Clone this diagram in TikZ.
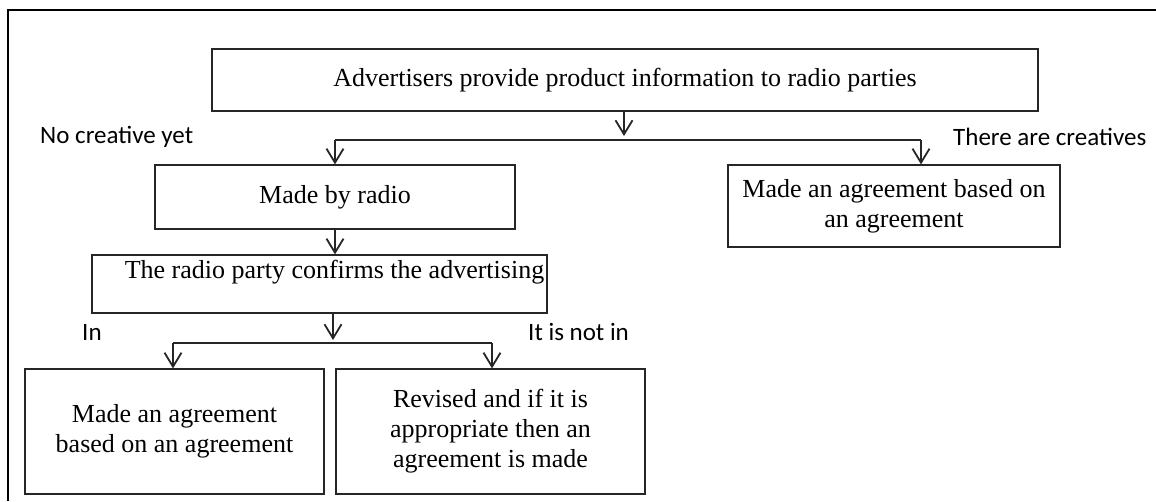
\documentclass[tikz,border=0pt]{standalone}
\usepackage{fontspec}
\setmainfont{Liberation Serif}
\newfontfamily\labfont{Carlito}
\usetikzlibrary{arrows.meta}
\begin{document}
\begin{tikzpicture}[x=1pt,y=-1pt,
  box/.style={draw=black!85, line width=1.2pt, rectangle, inner sep=0pt, align=center,
              font=\fontsize{26}{30}\selectfont},
  lab/.style={anchor=west, inner sep=0pt, font=\labfont\fontsize{25}{30}\selectfont},
  conn/.style={line width=1.3pt, draw=black!85},
  arr/.style={conn, -{Straight Barb[length=14pt,width=17pt,line width=1.8pt]}},
  frame/.style={line width=2pt, draw=black}
]
\useasboundingbox (0,0) rectangle (1156,501);
\coordinate (fa) at (8,501);
\coordinate (fb) at (8,10);
\coordinate (fc) at (1156,10);
\draw[frame] (fa) -- (fb) -- (fc);

\node[box, minimum width=826pt, minimum height=62pt] (top) at (625,80)
  {Advertisers provide product information to radio parties};
\node[box, minimum width=360pt, minimum height=64pt] (radio) at (335,197)
  {Made by radio};
\node[box, minimum width=332pt, minimum height=82pt] (right) at (894,206)
  {Made an agreement based on\\an agreement};
\node[box, minimum width=455pt, minimum height=58pt] (confirm) at (319.5,284)
  {\hspace*{30pt}The radio party confirms the advertising\\\phantom{material}};
\node[box, minimum width=299pt, minimum height=125pt] (bl) at (174.5,431.5)
  {Made an agreement\\based on an agreement};
\node[box, minimum width=309pt, minimum height=125pt] (br) at (490.5,431.5)
  {Revised and if it is\\appropriate then an\\agreement is made};

\node[lab] (lno) at (40,137) {No creative yet};
\node[lab] (lyes) at (953,137) {There are creatives};
\node[lab] (lin) at (82,332) {In};
\node[lab] (lnot) at (528,332) {It is not in};

\coordinate (j1) at (624,140);
\coordinate (jl) at (335,140);
\coordinate (jr) at (921,140);
\draw[arr, shorten >=4pt] (top.south -| j1) -- (j1);
\draw[conn] (jl) -- (jr);
\draw[arr] (jl) -- (jl |- radio.north);
\draw[arr] (jr) -- (jr |- right.north);
\draw[arr] (radio.south) -- (radio.south |- confirm.north);

\coordinate (j2) at (333,343);
\coordinate (kl) at (173,343);
\coordinate (kr) at (492,343);
\draw[arr, shorten >=3pt] (confirm.south -| j2) -- (j2);
\draw[conn] (kl) -- (kr);
\draw[arr] (kl) -- (kl |- bl.north);
\draw[arr] (kr) -- (kr |- br.north);
\end{tikzpicture}
\end{document}
